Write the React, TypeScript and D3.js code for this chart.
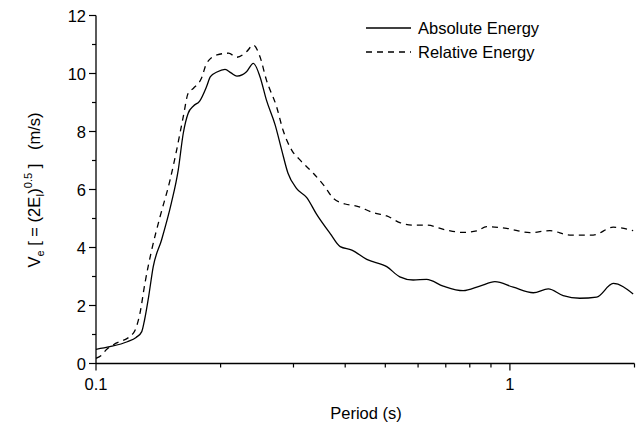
import React from "react";
import * as d3 from "d3";

const absPeriod = [0.1, 0.108, 0.119, 0.125, 0.129, 0.131, 0.134, 0.1375, 0.144, 0.152, 0.158, 0.1625, 0.167, 0.172, 0.178, 0.185, 0.189, 0.196, 0.205, 0.212, 0.219, 0.226, 0.231, 0.24, 0.249, 0.258, 0.271, 0.281, 0.291, 0.305, 0.323, 0.341, 0.368, 0.389, 0.415, 0.451, 0.504, 0.542, 0.584, 0.629, 0.69, 0.771, 0.846, 0.92, 1.019, 1.139, 1.238, 1.345, 1.476, 1.62, 1.777, 1.985];
const absValue = [0.49, 0.58, 0.75, 0.9, 1.1, 1.5, 2.3, 3.34, 4.26, 5.52, 6.67, 7.94, 8.63, 8.88, 9.05, 9.55, 9.89, 10.05, 10.14, 10.02, 9.91, 9.96, 10.06, 10.35, 9.89, 9.09, 8.22, 7.36, 6.56, 6.04, 5.72, 5.15, 4.48, 4.03, 3.91, 3.59, 3.34, 2.99, 2.88, 2.9, 2.67, 2.51, 2.67, 2.82, 2.63, 2.44, 2.57, 2.34, 2.25, 2.29, 2.76, 2.4];

const relPeriod = [0.1, 0.1032, 0.106, 0.11, 0.123, 0.1277, 0.1313, 0.1363, 0.1428, 0.151, 0.1566, 0.1625, 0.167, 0.172, 0.18, 0.185, 0.196, 0.209, 0.219, 0.231, 0.24, 0.249, 0.258, 0.273, 0.283, 0.297, 0.311, 0.335, 0.357, 0.374, 0.4, 0.426, 0.468, 0.504, 0.542, 0.584, 0.629, 0.703, 0.771, 0.831, 0.879, 0.982, 1.118, 1.249, 1.396, 1.589, 1.777, 1.985];
const relValue = [0.18, 0.29, 0.48, 0.64, 1.04, 1.73, 2.77, 3.91, 5.06, 6.33, 7.36, 8.51, 9.32, 9.49, 9.85, 10.35, 10.64, 10.7, 10.56, 10.75, 10.98, 10.58, 9.78, 8.86, 8.05, 7.36, 7.02, 6.56, 6.1, 5.7, 5.5, 5.43, 5.2, 5.09, 4.86, 4.77, 4.77, 4.6, 4.52, 4.57, 4.72, 4.66, 4.51, 4.58, 4.43, 4.43, 4.7, 4.58];

const xMajorTicks = [0.1, 1];
const xMinorTicks = [0.2, 0.3, 0.4, 0.5, 0.6, 0.7, 0.8, 0.9, 2];
const yMajorTicks = [0, 2, 4, 6, 8, 10, 12];
const yMinorTicks = [1, 3, 5, 7, 9, 11];
const seriesNames = ["Absolute Energy", "Relative Energy"];

const W = 644, H = 434;
const L = 96, R = 634.5, T = 15.5, B = 363.5;
const font = "'Liberation Sans', Arial, Helvetica, sans-serif";
const NB = "\u00a0";

export default function App() {
  const x = d3.scaleLog().domain([0.1, 2]).range([L, R]);
  const y = d3.scaleLinear().domain([0, 12]).range([B, T]);
  const line = d3.line<[number, number]>().x(d => x(d[0])).y(d => y(d[1])).curve(d3.curveMonotoneX);
  const absPts = absPeriod.map((p, i) => [p, absValue[i]] as [number, number]);
  const relPts = relPeriod.map((p, i) => [p, relValue[i]] as [number, number]);

  return (
    <svg width={W} height={H} style={{ position: "absolute", left: 0, top: 0, background: "#fff" }} fontFamily={font}>
      <rect width={W} height={H} fill="#fff" />
      <defs>
        <clipPath id="clip"><rect x={L} y={T - 5} width={R - L} height={B - T + 5} /></clipPath>
      </defs>
      <g clipPath="url(#clip)">
        <path d={line(absPts) || ""} fill="none" stroke="#000" strokeWidth={1.3} />
        <path d={line(relPts) || ""} fill="none" stroke="#000" strokeWidth={1.3} strokeDasharray="6,5" />
      </g>
      <line x1={L} x2={R} y1={B} y2={B} stroke="#000" strokeWidth={1.3} />
      <line x1={L} x2={L} y1={T} y2={B} stroke="#000" strokeWidth={1.3} />
      {xMajorTicks.map(t => (
        <g key={"xm" + t}>
          <line x1={x(t)} x2={x(t)} y1={B} y2={B + 7} stroke="#000" strokeWidth={1.2} />
          <text x={x(t)} y={B + 26} fontSize={16.5} textAnchor="middle">{String(t)}</text>
        </g>
      ))}
      {xMinorTicks.map(t => (
        <line key={"xn" + t} x1={x(t)} x2={x(t)} y1={B} y2={B + 4} stroke="#000" strokeWidth={1.2} />
      ))}
      {yMajorTicks.map(t => (
        <g key={"ym" + t}>
          <line x1={L - 7} x2={L} y1={y(t)} y2={y(t)} stroke="#000" strokeWidth={1.2} />
          <text x={L - 10} y={y(t) + 6} fontSize={16.5} textAnchor="end">{String(t)}</text>
        </g>
      ))}
      {yMinorTicks.map(t => (
        <line key={"yn" + t} x1={L - 4} x2={L} y1={y(t)} y2={y(t)} stroke="#000" strokeWidth={1.2} />
      ))}
      <text x={366} y={419} fontSize={16.5} textAnchor="middle">Period (s)</text>
      <text transform={`translate(40,190) rotate(-90)`} fontSize={16.5} textAnchor="middle">
        <tspan>V</tspan>
        <tspan fontSize={11} dy={4}>e</tspan>
        <tspan dy={-4}>{`${NB}[${NB}=${NB}(2E`}</tspan>
        <tspan fontSize={11} dy={4}>I</tspan>
        <tspan dy={-4}>)</tspan>
        <tspan fontSize={11} dy={-8}>0.5</tspan>
        <tspan dy={8}>{`${NB}]${NB}${NB}${NB}(m/s)`}</tspan>
      </text>
      <line x1={366} x2={411} y1={28} y2={28} stroke="#000" strokeWidth={1.3} />
      <text x={418} y={34} fontSize={16.5}>{seriesNames[0]}</text>
      <line x1={366} x2={411} y1={52} y2={52} stroke="#000" strokeWidth={1.3} strokeDasharray="6,5" />
      <text x={418} y={58} fontSize={16.5}>{seriesNames[1]}</text>
    </svg>
  );
}
